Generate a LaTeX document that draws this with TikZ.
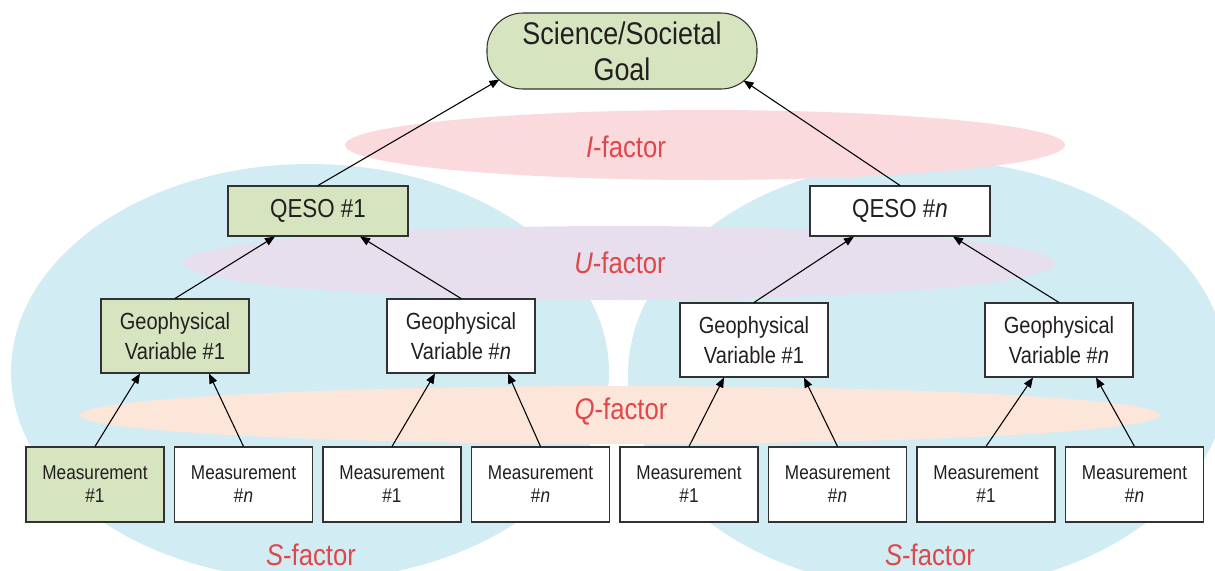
\documentclass[tikz,border=0pt]{standalone}
\usepackage{fontspec}
\setmainfont[FakeStretch=0.86]{Liberation Sans}
\usetikzlibrary{arrows.meta,calc}
\definecolor{boxgreen}{RGB}{214,228,191}
\definecolor{sblue}{RGB}{210,236,244}
\definecolor{ipink}{RGB}{250,218,221}
\definecolor{ulav}{RGB}{231,223,237}
\definecolor{qpeach}{RGB}{252,230,218}
\definecolor{fred}{RGB}{222,72,74}
\definecolor{txt}{RGB}{35,31,32}
\definecolor{edgegray}{RGB}{50,50,50}
\begin{document}
\begin{tikzpicture}[x=0.75pt,y=-0.75pt,
  box/.style={draw=edgegray, line width=0.8pt, text=txt, align=center, inner sep=0pt},
  gfill/.style={fill=boxgreen}, wfill/.style={fill=white},
  meas/.style={box, minimum width=103.5pt, minimum height=56.25pt, font=\fontsize{15}{17.3}\selectfont},
  geo/.style={box, minimum width=111pt, minimum height=55.5pt, font=\fontsize{17.5}{22.5}\selectfont},
  qeso/.style={box, minimum width=135pt, minimum height=37.5pt, font=\fontsize{19.5}{22}\selectfont},
  goalbox/.style={box, fill=boxgreen, rounded corners=27pt, minimum width=202.5pt, minimum height=57pt, font=\fontsize{23.5}{27}\selectfont},
  factor/.style={text=fred, font=\fontsize{22.4}{26}\selectfont},
  arr/.style={-{Triangle[length=7.5pt,width=6pt]}, line width=0.8pt, black},
]
\useasboundingbox (0,0) rectangle (1215,571);
\clip (0,0) rectangle (1215,571);
% background ellipses
\fill[sblue] (310,372) ellipse [x radius=224.25pt, y radius=156pt];
\fill[sblue] (928,375) ellipse [x radius=225pt, y radius=161.25pt];
\fill[ipink] (705,145) ellipse [x radius=270pt, y radius=26.25pt];
\fill[ulav] (619,263) ellipse [x radius=327pt, y radius=27.75pt];
\fill[qpeach] (620,415) ellipse [x radius=405pt, y radius=21.75pt];
% factor labels
\node[factor] (ifac) at (626,147) {\textit{I}-factor};
\node[factor] (ufac) at (620,263) {\textit{U}-factor};
\node[factor] (qfac) at (621,412) {\textit{Q}-factor};
\node[factor] (sfac1) at (311,555) {\textit{S}-factor};
\node[factor] (sfac2) at (930,555) {\textit{S}-factor};
% nodes
\node[goalbox] (goal) at (622,51) {Science/Societal\\Goal};
\node[qeso,gfill] (q1) at (318,211) {QESO \#1};
\node[qeso,wfill] (qn) at (900,211) {QESO \#\textit{n}};
\node[geo,gfill] (g11) at (175,336) {Geophysical\\Variable \#1};
\node[geo,wfill] (g1n) at (461,336) {Geophysical\\Variable \#\textit{n}};
\node[geo,wfill] (g21) at (754,340) {Geophysical\\Variable \#1};
\node[geo,wfill] (g2n) at (1059,340) {Geophysical\\Variable \#\textit{n}};
\node[meas,gfill] (m1) at (95,484.5) {Measurement\\\#1};
\node[meas,wfill] (m2) at (243.5,484.5) {Measurement\\\#\textit{n}};
\node[meas,wfill] (m3) at (392,484.5) {Measurement\\\#1};
\node[meas,wfill] (m4) at (540.5,484.5) {Measurement\\\#\textit{n}};
\node[meas,wfill] (m5) at (689,484.5) {Measurement\\\#1};
\node[meas,wfill] (m6) at (837.5,484.5) {Measurement\\\#\textit{n}};
\node[meas,wfill] (m7) at (986,484.5) {Measurement\\\#1};
\node[meas,wfill] (m8) at (1134.5,484.5) {Measurement\\\#\textit{n}};
% connectors
\draw[arr] (q1.north) -- ($(goal.south west)+(13,-10)$);
\draw[arr] (qn.north) -- ($(goal.south east)+(-14,-9)$);
\draw[arr] (g11.north) -- ($(q1.south)+(-43,0)$);
\draw[arr] (g1n.north) -- ($(q1.south)+(42,0)$);
\draw[arr] (g21.north) -- ($(qn.south)+(-46,0)$);
\draw[arr] (g2n.north) -- ($(qn.south)+(53,0)$);
\draw[arr] (m1.north) -- ($(g11.south)+(-35,0)$);
\draw[arr] (m2.north) -- ($(g11.south)+(34,0)$);
\draw[arr] (m3.north) -- ($(g1n.south)+(-26,0)$);
\draw[arr] (m4.north) -- ($(g1n.south)+(47,0)$);
\draw[arr] (m5.north) -- ($(g21.south)+(-30,0)$);
\draw[arr] (m6.north) -- ($(g21.south)+(50,0)$);
\draw[arr] (m7.north) -- ($(g2n.south)+(-26,0)$);
\draw[arr] (m8.north) -- ($(g2n.south)+(37,0)$);
\end{tikzpicture}
\end{document}
